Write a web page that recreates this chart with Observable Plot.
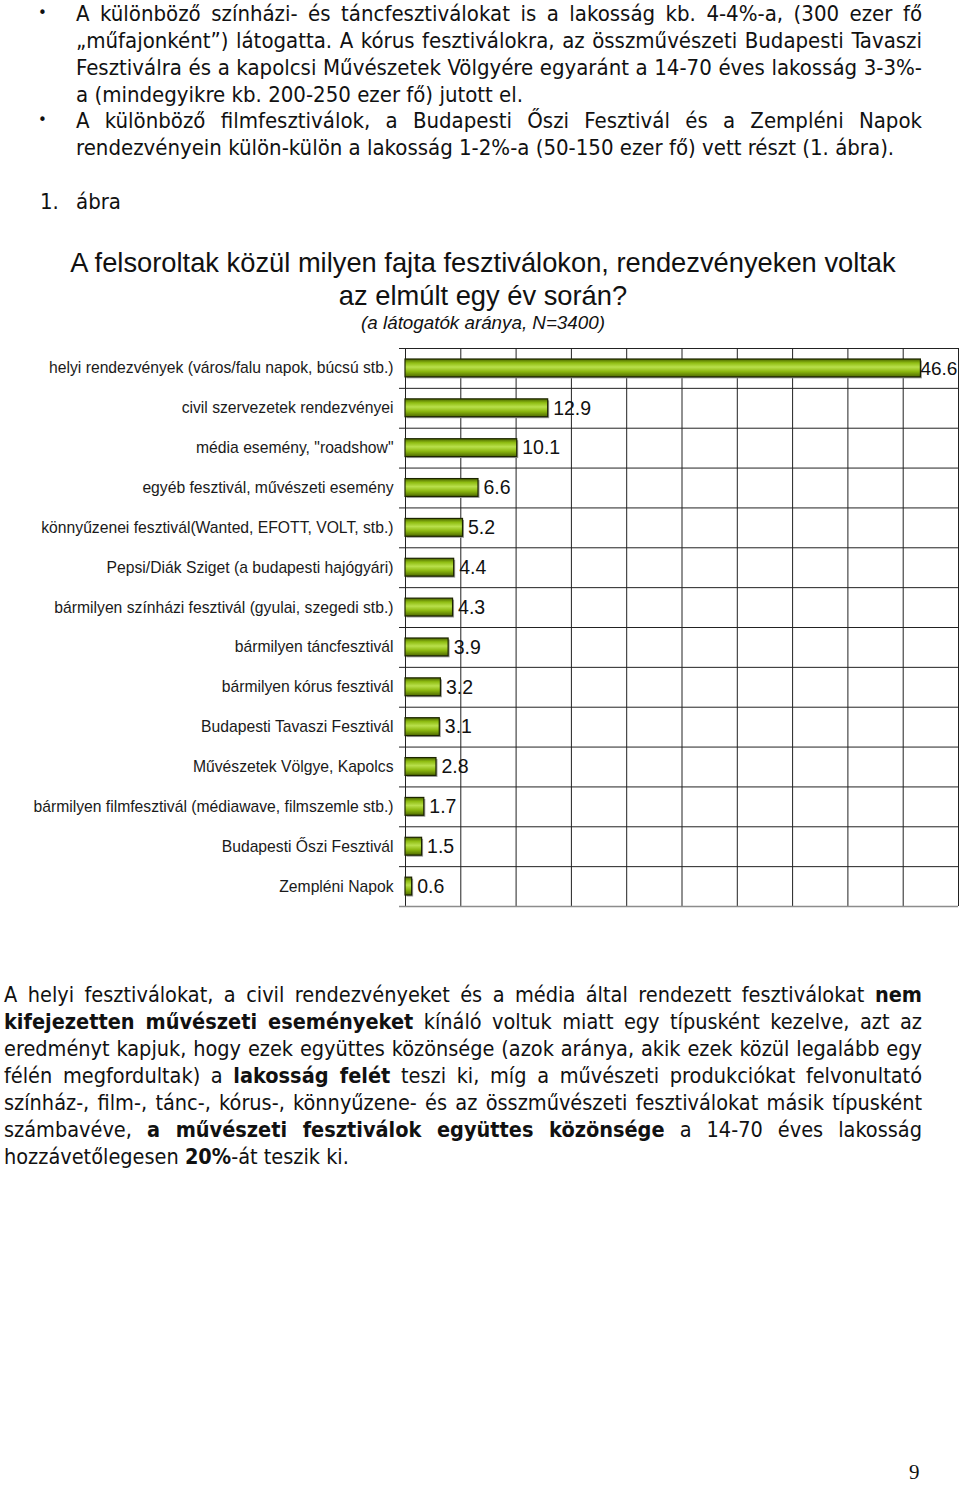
<!DOCTYPE html>
<html>
<head>
<meta charset="utf-8">
<script src="https://cdn.jsdelivr.net/npm/d3@7"></script>
<script src="https://cdn.jsdelivr.net/npm/@observablehq/plot@0.6"></script>
<style>
  html, body { margin: 0; padding: 0; background: #fff; }
  #page { position: relative; width: 960px; height: 1485px; overflow: hidden; background: #fff; color: #111; }
  .doc { font-family: "DejaVu Sans Condensed", "DejaVu Sans", sans-serif; font-size: 22px; line-height: 27px; position: absolute; white-space: nowrap; }
  .jl { text-align: justify; text-align-last: justify; white-space: nowrap; }
  .ll { text-align: left; }
  .bullet { position: absolute; left: 38px; font-family: "DejaVu Sans", sans-serif; font-size: 15px; }
  .title { position: absolute; left: 0; width: 966px; text-align: center; font-family: "Liberation Sans", Arial, sans-serif; color: #111; }
  #chart { position: absolute; left: 0; top: 340px; line-height: 0; }
  #pagenum { position: absolute; left: 909px; top: 1460px; font-family: "Liberation Serif", "DejaVu Serif", serif; font-size: 21px; }
</style>
</head>
<body>
<div id="page">
  <span class="bullet" style="top:4px">•</span>
  <div class="doc" style="left:76px; top:0px; width:846px">
    <div class="jl">A különböző színházi- és táncfesztiválokat is a lakosság kb. 4-4%-a, (300 ezer fő</div>
    <div class="jl">„műfajonként”) látogatta. A kórus fesztiválokra, az összművészeti Budapesti Tavaszi</div>
    <div class="jl">Fesztiválra és a kapolcsi Művészetek Völgyére egyaránt a 14-70 éves lakosság 3-3%-</div>
    <div class="ll">a (mindegyikre kb. 200-250 ezer fő) jutott el.</div>
  </div>
  <span class="bullet" style="top:111px">•</span>
  <div class="doc" style="left:76px; top:107px; width:846px">
    <div class="jl">A különböző filmfesztiválok, a Budapesti Őszi Fesztivál és a Zempléni Napok</div>
    <div class="ll">rendezvényein külön-külön a lakosság 1-2%-a (50-150 ezer fő) vett részt (1. ábra).</div>
  </div>
  <div class="doc" style="left:40px; top:188px">1.</div>
  <div class="doc" style="left:76px; top:188px">ábra</div>

  <div class="title" style="top:246px; font-size:27.3px; line-height:33px">A felsoroltak közül milyen fajta fesztiválokon, rendezvényeken voltak<br>az elmúlt egy év során?</div>
  <div class="title" style="top:312px; font-size:18.8px; line-height:22px; font-style:italic">(a látogatók aránya, N=3400)</div>

  <div id="chart"></div>

  <div class="doc" style="left:4px; top:981px; width:918px; font-size:21.5px">
    <div class="jl">A helyi fesztiválokat, a civil rendezvényeket és a média által rendezett fesztiválokat <b>nem</b></div>
    <div class="jl"><b>kifejezetten művészeti eseményeket</b> kínáló voltuk miatt egy típusként kezelve, azt az</div>
    <div class="jl">eredményt kapjuk, hogy ezek együttes közönsége (azok aránya, akik ezek közül legalább egy</div>
    <div class="jl">félén megfordultak) a <b>lakosság felét</b> teszi ki, míg a művészeti produkciókat felvonultató</div>
    <div class="jl">színház-, film-, tánc-, kórus-, könnyűzene- és az összművészeti fesztiválokat másik típusként</div>
    <div class="jl">számbavéve, <b>a művészeti fesztiválok együttes közönsége</b> a 14-70 éves lakosság</div>
    <div class="ll">hozzávetőlegesen <b>20%</b>-át teszik ki.</div>
  </div>
  <div id="pagenum">9</div>
</div>
<script>
const categories = [
  "helyi rendezvények (város/falu napok, búcsú stb.)",
  "civil szervezetek rendezvényei",
  "média esemény, \"roadshow\"",
  "egyéb fesztivál, művészeti esemény",
  "könnyűzenei fesztivál(Wanted, EFOTT, VOLT, stb.)",
  "Pepsi/Diák Sziget (a budapesti hajógyári)",
  "bármilyen színházi fesztivál (gyulai, szegedi stb.)",
  "bármilyen táncfesztivál",
  "bármilyen kórus fesztivál",
  "Budapesti Tavaszi Fesztivál",
  "Művészetek Völgye, Kapolcs",
  "bármilyen filmfesztivál (médiawave, filmszemle stb.)",
  "Budapesti Őszi Fesztivál",
  "Zempléni Napok"
];
const values = [46.6, 12.9, 10.1, 6.6, 5.2, 4.4, 4.3, 3.9, 3.2, 3.1, 2.8, 1.7, 1.5, 0.6];
const gridTicks = [0, 5, 10, 15, 20, 25, 30, 35, 40, 45, 50];

const data = categories.map((c, i) => ({cat: c, value: values[i]}));
const maxVal = d3.max(values);

const W = 960, H = 576, mT = 8, mB = 10, mL = 405, mR = 2;
const step = (H - mT - mB) / categories.length;
const inset = 11;

const chart = Plot.plot({
  width: W, height: H,
  marginTop: mT, marginBottom: mB, marginLeft: mL, marginRight: mR,
  style: {fontFamily: "'Liberation Sans', Arial, sans-serif", fontSize: "15.7px", color: "#1a1a1a", background: "transparent", overflow: "visible"},
  x: {domain: [0, 50], axis: null},
  y: {domain: categories, padding: 0, round: false, axis: null},
  marks: [
    Plot.ruleX(gridTicks, {stroke: "#222", strokeWidth: 1}),
    Plot.tickY(categories, {y: d => d, x1: 0, x2: 0, insetLeft: -6, dy: -step / 2, stroke: "#222"}),
    Plot.tickY([categories[categories.length - 1]], {y: d => d, x1: 0, x2: 50, insetLeft: -6, dy: step / 2, stroke: "#8c8c8c", strokeWidth: 1.5}),
    Plot.barX(data, {x: "value", y: "cat", fill: "#9a9a9a", dx: 1.5, dy: 1.5, insetTop: inset, insetBottom: inset}),
    Plot.barX(data, {x: "value", y: "cat", fill: "url(#barGrad)", stroke: "#1c2400", strokeWidth: 1.2, insetTop: inset, insetBottom: inset}),
    Plot.axisY({tickSize: 0, tickPadding: 12, fontSize: 15.7, fill: "#1a1a1a", label: null}),
    Plot.text(data.filter(d => d.value < maxVal), {x: "value", y: "cat", text: d => d.value.toFixed(1), dx: 5, textAnchor: "start", fontSize: 19.5, fill: "#111"}),
    Plot.text(data.filter(d => d.value === maxVal), {x: "value", y: "cat", text: d => d.value.toFixed(1), dx: -0.5, textAnchor: "start", fontSize: 19, fill: "#111"})
  ]
});

d3.select(chart).insert("defs", ":first-child").html(`
  <linearGradient id="barGrad" x1="0" y1="0" x2="0" y2="1">
    <stop offset="0%" stop-color="#4a6400"/>
    <stop offset="22%" stop-color="#8fbd12"/>
    <stop offset="45%" stop-color="#b9e04c"/>
    <stop offset="70%" stop-color="#8cb80f"/>
    <stop offset="100%" stop-color="#4f6a00"/>
  </linearGradient>`);

document.getElementById("chart").appendChild(chart);
</script>
</body>
</html>
